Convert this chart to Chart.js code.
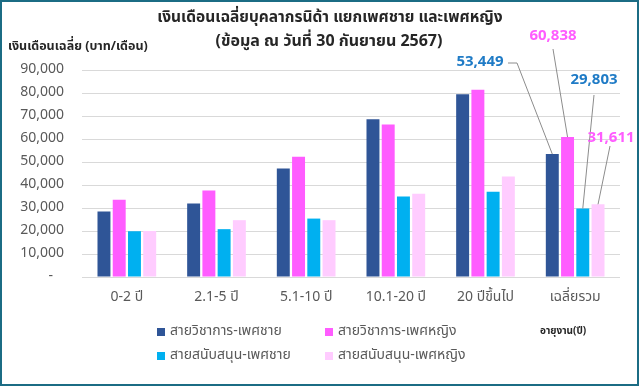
<!DOCTYPE html>
<html>
<head>
<meta charset="utf-8">
<script src="https://cdn.jsdelivr.net/npm/chart.js@4/dist/chart.umd.min.js"></script>
<style>
  html, body { margin: 0; padding: 0; background: #fff; }
  #wrap { position: relative; width: 639px; height: 386px; box-sizing: border-box; border: 2px solid #1B6C84; }
  canvas { display: block; }
</style>
</head>
<body>
<div id="wrap"><canvas id="c" width="635" height="382"></canvas></div>
<script>
const categories = ['0-2 ปี', '2.1-5 ปี', '5.1-10 ปี', '10.1-20 ปี', '20 ปีขึ้นไป', 'เฉลี่ยรวม'];
const seriesNames = ['สายวิชาการ-เพศชาย', 'สายวิชาการ-เพศหญิง', 'สายสนับสนุน-เพศชาย', 'สายสนับสนุน-เพศหญิง'];
const academicMale = [28500, 32000, 47200, 68600, 79500, 53449];
const academicFemale = [33600, 37600, 52300, 66300, 81400, 60838];
const supportMale = [19900, 20800, 25400, 35000, 37100, 29803];
const supportFemale = [20000, 24700, 24700, 36200, 43700, 31611];
const yTicks = [0, 10000, 20000, 30000, 40000, 50000, 60000, 70000, 80000, 90000];
const titleLines = ['เงินเดือนเฉลี่ยบุคลากรนิด้า แยกเพศชาย และเพศหญิง', '(ข้อมูล ณ วันที่ 30 กันยายน 2567)'];
const yTitle = 'เงินเดือนเฉลี่ย (บาท/เดือน)';
const xTitle = 'อายุงาน(ปี)';

const colors = ['#2F5597', '#FF5CFF', '#00B0F0', '#FFCCFF'];
const labelColors = ['#1F7BC6', '#FF5CFF', '#1F7BC6', '#FF5CFF'];
const FONT = "'Noto Sans Thai', Tahoma, 'Liberation Sans', Arial, sans-serif";

// offset of the wrapper border (canvas sits inside a 2px border)
const OFF = 2;

const labelPlugin = {
  id: 'extras',
  afterDraw(chart) {
    const ctx = chart.ctx;
    ctx.save();
    // title
    ctx.fillStyle = '#262626';
    ctx.textAlign = 'center';
    ctx.textBaseline = 'middle';
    ctx.font = 'bold 15.5px ' + FONT;
    ctx.fillText(titleLines[0], 330 - OFF, 19 - OFF);
    ctx.font = 'bold 16px ' + FONT;
    ctx.fillText(titleLines[1], 329 - OFF, 43 - OFF);
    // y title
    ctx.textAlign = 'left';
    ctx.font = 'bold 12.5px ' + FONT;
    ctx.fillText(yTitle, 8 - OFF, 47 - OFF);
    // x title
    ctx.font = 'bold 10px ' + FONT;
    ctx.fillText(xTitle, 540 - OFF, 332 - OFF);

    // legend (2 x 2)
    const pos = [[157, 332], [325, 332], [157, 356], [325, 356]];
    ctx.font = '14px ' + FONT;
    chart.data.datasets.forEach((ds, i) => {
      const [x, y] = pos[i];
      ctx.fillStyle = ds.backgroundColor;
      ctx.fillRect(x - OFF, y - 4 - OFF, 8, 8);
      ctx.fillStyle = '#595959';
      ctx.textAlign = 'left';
      ctx.fillText(ds.label, x + 13 - OFF, y - OFF);
    });

    // data labels with leader lines for last category
    const last = chart.data.labels.length - 1;
    const lbl = [
      { tx: 480, ty: 63, path: [[508, 63], [517, 63]] },
      { tx: 553, ty: 37, path: [[553, 49]] },
      { tx: 594, ty: 81, path: [[594, 95]] },
      { tx: 611, ty: 139, path: [[610, 146]] }
    ];
    chart.data.datasets.forEach((ds, i) => {
      const el = chart.getDatasetMeta(i).data[last];
      const v = ds.data[last];
      const L = lbl[i];
      ctx.strokeStyle = '#8C8C8C';
      ctx.lineWidth = 1;
      ctx.beginPath();
      ctx.moveTo(L.path[0][0] - OFF, L.path[0][1] - OFF);
      for (let k = 1; k < L.path.length; k++) ctx.lineTo(L.path[k][0] - OFF, L.path[k][1] - OFF);
      ctx.lineTo(el.x, el.y);
      ctx.stroke();
      ctx.fillStyle = labelColors[i];
      ctx.font = 'bold 15px ' + FONT;
      ctx.textAlign = 'center';
      ctx.fillText(v.toLocaleString('en-US'), L.tx - OFF, L.ty - OFF);
    });
    ctx.restore();
  }
};

const datasets = [academicMale, academicFemale, supportMale, supportFemale].map((d, i) => ({
  label: seriesNames[i],
  data: d,
  backgroundColor: colors[i],
  borderWidth: 0,
  categoryPercentage: 0.68,
  barPercentage: 0.85
}));

new Chart(document.getElementById('c'), {
  type: 'bar',
  data: { labels: categories, datasets },
  options: {
    responsive: false,
    animation: false,
    layout: { padding: { left: 0, right: 19 - OFF, top: 70 - OFF, bottom: 386 - 277 - 36 - OFF } },
    plugins: { legend: { display: false }, title: { display: false }, tooltip: { enabled: false } },
    scales: {
      x: {
        grid: { display: false, drawTicks: false },
        border: { display: false },
        ticks: { color: '#595959', font: { family: FONT, size: 14 }, padding: 13, maxRotation: 0 },
        afterFit(s) { s.height = 36; }
      },
      y: {
        min: 0, max: 90000,
        afterBuildTicks(s) { s.ticks = yTicks.map(v => ({ value: v })); },
        grid: { color: '#D9D9D9', lineWidth: 1, drawTicks: false },
        border: { display: false },
        ticks: {
          color: '#595959', font: { family: FONT, size: 14 }, padding: 18,
          callback: v => v === 0 ? '-   ' : v.toLocaleString('en-US')
        },
        afterFit(s) { s.width = 82 - OFF; }
      }
    }
  },
  plugins: [labelPlugin]
});
</script>
</body>
</html>
